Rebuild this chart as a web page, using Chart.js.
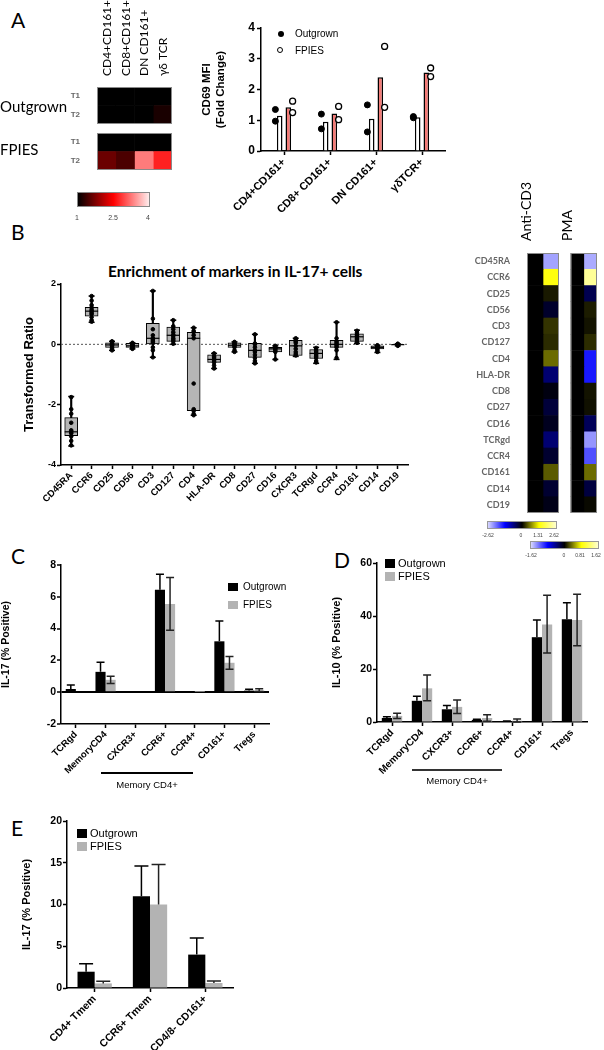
<!DOCTYPE html>
<html>
<head>
<meta charset="utf-8">
<script src="https://cdn.jsdelivr.net/npm/chart.js@4.4.1/dist/chart.umd.min.js"></script>
<style>
  body { margin: 0; background: #fff; }
  #wrap { position: relative; width: 604px; height: 1050px; background: #fff; overflow: hidden; }
  canvas { position: absolute; }
  .t { position: absolute; white-space: nowrap; line-height: 1; color: #000; }
  .lato { font-family: Lato, "Open Sans", sans-serif; }
  .arial { font-family: "Liberation Sans", Arial, sans-serif; }
  .letter { font-family: Lato, sans-serif; font-size: 21px; }
  .sq { position: absolute; width: 10px; height: 8px; }
  .bar { position: absolute; height: 6px; border: 1px solid #999; }
  .tiny { position: absolute; font-family: "Liberation Sans", sans-serif; font-size: 5px; color: #444; transform: translateX(-50%); }
</style>
</head>
<body>
<div id="wrap">
  <!-- panel letters -->
  <div class="t letter" style="left:11px;top:9px">A</div>
  <div class="t letter" style="left:11px;top:221px">B</div>
  <div class="t letter" style="left:11px;top:545px">C</div>
  <div class="t letter" style="left:334px;top:549px">D</div>
  <div class="t letter" style="left:11px;top:817px">E</div>

  <!-- A heatmap -->
  <canvas id="hmOut" width="115" height="138" style="left:60px;top:0px"></canvas>
  <canvas id="hmFp" width="115" height="65" style="left:60px;top:119px"></canvas>
  <div class="t lato" style="left:0px;top:99px;font-size:15px">Outgrown</div>
  <div class="t lato" style="left:0px;top:142px;font-size:15px">FPIES</div>
  <div class="bar" id="cbA" style="left:77px;top:192px;width:71px;height:13px;border-color:#888"></div>
  <div class="tiny" style="left:77px;top:214px;font-size:7px">1</div>
  <div class="tiny" style="left:113px;top:214px;font-size:7px">2.5</div>
  <div class="tiny" style="left:148px;top:214px;font-size:7px">4</div>

  <!-- A bar chart -->
  <canvas id="cd69" width="255" height="205" style="left:200px;top:12px"></canvas>
  <div class="t arial" style="left:278px;top:31px;width:6px;height:6px;border-radius:50%;background:#000"></div>
  <div class="t arial" style="left:295px;top:29px;font-size:10px">Outgrown</div>
  <div class="t arial" style="left:277px;top:47px;width:6px;height:6px;border-radius:50%;border:1.3px solid #000;box-sizing:border-box"></div>
  <div class="t arial" style="left:295px;top:46px;font-size:10px">FPIES</div>

  <!-- B -->
  <div class="t lato" style="left:108px;top:264px;font-size:15.5px;font-weight:bold">Enrichment of markers in IL-17+ cells</div>
  <canvas id="box" width="396" height="245" style="left:22px;top:276px"></canvas>
  <canvas id="hmCD3" width="122" height="358" style="left:440px;top:170px"></canvas>
  <canvas id="hmPMA" width="40" height="358" style="left:562px;top:170px"></canvas>
  <div class="bar" id="cbB1" style="left:487px;top:521px;width:68px"></div>
  <div class="tiny" style="left:488px;top:532px">-2.62</div>
  <div class="tiny" style="left:521px;top:532px">0</div>
  <div class="tiny" style="left:538px;top:532px">1.31</div>
  <div class="tiny" style="left:554px;top:532px">2.62</div>
  <div class="bar" id="cbB2" style="left:530px;top:541px;width:67px"></div>
  <div class="tiny" style="left:531px;top:552px">-1.62</div>
  <div class="tiny" style="left:564px;top:552px">0</div>
  <div class="tiny" style="left:580px;top:552px">0.81</div>
  <div class="tiny" style="left:596px;top:552px">1.62</div>

  <!-- C -->
  <canvas id="c17" width="280" height="228" style="left:0px;top:555px"></canvas>
  <div class="sq" style="left:228px;top:583px;background:#000"></div>
  <div class="t arial" style="left:243px;top:582px;font-size:10px">Outgrown</div>
  <div class="sq" style="left:228px;top:601px;background:#b3b3b3"></div>
  <div class="t arial" style="left:243px;top:600px;font-size:10px">FPIES</div>
  <div style="position:absolute;left:101px;top:772px;width:92px;height:1.5px;background:#000"></div>
  <div class="t arial" style="left:147px;top:780px;font-size:9.5px;transform:translateX(-50%)">Memory CD4+</div>

  <!-- D -->
  <canvas id="d10" width="265" height="226" style="left:330px;top:553px"></canvas>
  <div class="sq" style="left:385px;top:559px;background:#000;height:9px"></div>
  <div class="t arial" style="left:398px;top:558px;font-size:11px">Outgrown</div>
  <div class="sq" style="left:385px;top:572px;background:#b3b3b3;height:9px"></div>
  <div class="t arial" style="left:398px;top:571px;font-size:11px">FPIES</div>
  <div style="position:absolute;left:412px;top:769px;width:90px;height:1.5px;background:#333"></div>
  <div class="t arial" style="left:457px;top:776px;font-size:9.5px;transform:translateX(-50%)">Memory CD4+</div>

  <!-- E -->
  <canvas id="e17" width="225" height="239" style="left:20px;top:811px"></canvas>
  <div class="sq" style="left:77px;top:829px;background:#000;height:9px"></div>
  <div class="t arial" style="left:90px;top:828px;font-size:11px">Outgrown</div>
  <div class="sq" style="left:77px;top:842px;background:#b3b3b3;height:9px"></div>
  <div class="t arial" style="left:90px;top:841px;font-size:11px">FPIES</div>
</div>

<script>
// ---------- data ----------
// A: heatmap of CD69 fold change (scale 1 - 4)
const hmCols = ['CD4+CD161+', 'CD8+CD161+', 'DN CD161+', 'γδ TCR'];
const hmRows = ['T1', 'T2'];
const hmOutgrown = [[1, 1, 1, 1], [1, 1, 1, 1.15]];
const hmFpies = [[1, 1, 1, 1], [1.63, 1.44, 3.28, 2.71]];

// A: CD69 MFI bars and points
const cd69Cats = ['CD4+CD161+', 'CD8+ CD161+', 'DN CD161+', 'γδTCR+'];
const cd69Outgrown = [1.15, 0.95, 1.05, 1.1];
const cd69Fpies = [1.42, 1.22, 2.4, 2.55];
const cd69OutPts = [[1.35, 0.97], [1.2, 0.72], [1.5, 0.62], [1.08, 1.12]];
const cd69FpPts = [[1.62, 1.25], [1.45, 1.02], [3.4, 1.42], [2.7, 2.42]];

// B: box plots, transformed ratio
const markers = ['CD45RA', 'CCR6', 'CD25', 'CD56', 'CD3', 'CD127', 'CD4', 'HLA-DR', 'CD8', 'CD27', 'CD16', 'CXCR3', 'TCRgd', 'CCR4', 'CD161', 'CD14', 'CD19'];
const boxMin = [-3.37, 0.73, -0.2, -0.15, -0.43, 0.0, -2.35, -0.8, -0.25, -0.63, -0.5, -0.4, -0.63, -0.5, 0.03, -0.27, -0.05];
const boxQ1 = [-3.03, 0.93, -0.1, -0.1, 0.0, 0.1, -2.2, -0.6, -0.1, -0.43, -0.25, -0.37, -0.47, -0.1, 0.1, -0.15, -0.02];
const boxMed = [-2.9, 1.1, -0.02, -0.05, 0.2, 0.3, 0.2, -0.5, -0.03, -0.2, -0.15, -0.05, -0.3, 0.0, 0.25, -0.1, -0.01];
const boxQ3 = [-2.43, 1.23, 0.05, 0.03, 0.7, 0.57, 0.4, -0.35, 0.05, 0.03, -0.1, 0.13, -0.17, 0.13, 0.35, -0.05, 0.0];
const boxMax = [-1.73, 1.6, 0.1, 0.05, 1.77, 0.8, 0.55, -0.3, 0.08, 0.33, -0.05, 0.2, -0.1, 0.73, 0.47, -0.03, 0.02];
const boxPts = [
  [-1.75, -2.15, -2.3, -2.6, -2.85, -2.9, -2.95, -3.05, -3.2, -3.35],
  [1.6, 1.45, 1.3, 1.22, 1.15, 1.1, 1.05, 1.0, 0.9, 0.8, 0.75],
  [0.1, 0.05, 0.02, 0, -0.02, -0.05, -0.1, -0.15, -0.2],
  [0.05, 0.02, 0, -0.03, -0.05, -0.08, -0.1, -0.13, -0.15],
  [1.77, 0.85, 0.5, 0.3, 0.2, 0.15, 0.1, 0.05, -0.1, -0.2, -0.43],
  [0.8, 0.6, 0.5, 0.4, 0.32, 0.28, 0.2, 0.15, 0.1, 0.02],
  [0.55, 0.45, 0.4, 0.3, 0.2, -1.3, -2.15, -2.2, -2.3, -2.35],
  [-0.3, -0.4, -0.45, -0.5, -0.55, -0.6, -0.7, -0.8],
  [0.08, 0.03, 0, -0.02, -0.05, -0.1, -0.2, -0.25],
  [0.33, 0.03, 0, -0.1, -0.2, -0.25, -0.35, -0.45, -0.55, -0.63],
  [-0.05, -0.1, -0.12, -0.15, -0.2, -0.25, -0.5],
  [0.2, 0.15, 0.1, 0.05, -0.05, -0.15, -0.25, -0.32, -0.37],
  [-0.12, -0.2, -0.25, -0.3, -0.35, -0.4, -0.45, -0.55, -0.6],
  [0.73, 0.2, 0.1, 0.05, 0, -0.05, -0.1, -0.2, -0.45],
  [0.45, 0.38, 0.33, 0.28, 0.25, 0.2, 0.15, 0.1, 0.05],
  [-0.03, -0.05, -0.08, -0.1, -0.12, -0.15, -0.2, -0.25],
  [0.02, 0.01, 0, -0.01, -0.02, -0.03, -0.05]
];

// B: heatmaps (reference column, stimulated column)
const hmMarkers = ['CD45RA', 'CCR6', 'CD25', 'CD56', 'CD3', 'CD127', 'CD4', 'HLA-DR', 'CD8', 'CD27', 'CD16', 'TCRgd', 'CCR4', 'CD161', 'CD14', 'CD19'];
const antiCD3 = [-2.3, 1.4, 0.13, -0.22, 0.26, 0.22, 0.55, -0.58, -0.08, -0.3, -0.16, -0.58, -0.24, 0.46, -0.25, -0.12];
const pma = [-1.45, 1.4, -0.25, 0.09, 0.06, 0.14, -0.9, -0.9, 0.06, 0.05, -0.28, -1.37, -1.11, 0.34, -0.2, 0.03];

// C: IL-17 % positive
const cCats = ['TCRgd', 'MemoryCD4', 'CXCR3+', 'CCR6+', 'CCR4+', 'CD161+', 'Tregs'];
const cOutgrown = [0.2, 1.28, 0.03, 6.45, 0.03, 3.2, 0.1];
const cOutHi = [0.45, 1.88, null, 7.42, null, 4.48, 0.18];
const cFpies = [0, 0.78, 0, 5.55, 0.02, 1.85, 0.12];
const cFpHi = [null, 1.0, null, 7.22, null, 2.25, 0.22];
const cFpLo = [null, 0.55, null, 3.9, null, 1.45, 0.04];

// D: IL-10 % positive
const dCats = ['TCRgd', 'MemoryCD4', 'CXCR3+', 'CCR6+', 'CCR4+', 'CD161+', 'Tregs'];
const dOutgrown = [1.5, 8.0, 4.8, 0.8, 0.3, 32.0, 38.8];
const dOutHi = [2.0, 9.7, 6.2, 1.0, 0.4, 38.5, 45.0];
const dFpies = [2.3, 12.7, 5.7, 1.5, 0.5, 36.8, 38.5];
const dFpHi = [3.3, 17.7, 8.3, 2.7, 1.1, 47.8, 48.2];
const dFpLo = [1.3, 8.0, 3.2, 0.3, 0.0, 26.0, 28.8];

// E: IL-17 % positive
const eCats = ['CD4+ Tmem', 'CCR6+ Tmem', 'CD4/8- CD161+'];
const eOutgrown = [1.95, 11.0, 4.0];
const eOutHi = [2.9, 14.6, 6.0];
const eFpies = [0.55, 10.0, 0.6];
const eFpHi = [0.8, 14.8, 0.85];

// ---------- helpers ----------
Chart.defaults.font.family = '"Liberation Sans", Arial, sans-serif';
Chart.defaults.font.weight = 'bold';
Chart.defaults.color = '#000';
Chart.defaults.animation = false;
Chart.defaults.plugins.legend.display = false;
Chart.defaults.plugins.tooltip.enabled = false;

function mix(stops, v) {
  if (v <= stops[0][0]) return stops[0][1];
  for (let i = 1; i < stops.length; i++) {
    if (v <= stops[i][0]) {
      const [a, ca] = stops[i - 1], [b, cb] = stops[i];
      const t = (v - a) / (b - a);
      return ca.map((c, k) => Math.round(c + (cb[k] - c) * t));
    }
  }
  return stops[stops.length - 1][1];
}
const rgb = c => `rgb(${c[0]},${c[1]},${c[2]})`;
const redStops = [[1, [0, 0, 0]], [2.5, [255, 0, 0]], [4, [255, 236, 236]]];
const byStops = m => [[-m, [216, 216, 255]], [-m / 2, [0, 0, 255]], [0, [0, 0, 0]], [m / 2, [255, 255, 0]], [m, [255, 255, 208]]];

function gradientCss(stops) {
  const lo = stops[0][0], hi = stops[stops.length - 1][0];
  return 'linear-gradient(to right,' + stops.map(s => `${rgb(s[1])} ${((s[0] - lo) / (hi - lo) * 100).toFixed(1)}%`).join(',') + ')';
}
document.getElementById('cbA').style.background = gradientCss(redStops);
document.getElementById('cbB1').style.background = gradientCss(byStops(2.62));
document.getElementById('cbB2').style.background = gradientCss(byStops(1.62));

const fixW = w => s => { s.width = w; };
const fixH = h => s => { s.height = h; };
const axisBorder = { color: '#000', width: 1.5 };
const tickGrid = { drawOnChartArea: false, color: '#000', tickColor: '#000', tickLength: 4, tickWidth: 1.5 };
const hiddenLinear = (min, max) => ({ type: 'linear', display: false, offset: false, min, max, grid: { offset: false } });

// thin frame round a heatmap block
const frame = {
  id: 'frame',
  afterDatasetsDraw(chart) {
    const { ctx, chartArea: a } = chart;
    ctx.save();
    ctx.strokeStyle = '#8a8a8a';
    ctx.lineWidth = 1;
    ctx.strokeRect(a.left + 0.5, a.top + 0.5, a.right - a.left - 1, a.bottom - a.top - 1);
    ctx.restore();
  }
};

// error bars drawn from dataset errHi / errLo through the y scale
const errorBars = {
  id: 'errorBars',
  afterDatasetsDraw(chart, args, opts) {
    const ctx = chart.ctx;
    chart.data.datasets.forEach((ds, i) => {
      if (!ds.errHi) return;
      const meta = chart.getDatasetMeta(i);
      const ys = chart.scales[meta.yAxisID];
      ctx.save();
      ctx.strokeStyle = ds.errColor || '#000';
      ctx.lineWidth = 1.5;
      meta.data.forEach((bar, j) => {
        const hi = ds.errHi[j];
        if (hi == null) return;
        const lo = ds.errLo ? ds.errLo[j] : null;
        const top = ys.getPixelForValue(hi);
        const bot = lo == null ? bar.y : ys.getPixelForValue(lo);
        const w = opts.cap || 4;
        ctx.beginPath();
        ctx.moveTo(bar.x, bot); ctx.lineTo(bar.x, top);
        ctx.moveTo(bar.x - w, top); ctx.lineTo(bar.x + w, top);
        if (lo != null) { ctx.moveTo(bar.x - w, bot); ctx.lineTo(bar.x + w, bot); }
        ctx.stroke();
      });
      ctx.restore();
    });
  }
};

// ---------- A heatmaps ----------
function heatA(id, rows, showCols, top, bottom) {
  const datasets = hmCols.map((c, j) => ({
    data: hmRows.map(() => 1),
    backgroundColor: rows.map(r => rgb(mix(redStops, r[j]))),
    borderWidth: 0,
    barPercentage: 1, categoryPercentage: 1
  }));
  const scales = {
    x: { stacked: true, display: false, min: 0, max: 4 },
    y: { stacked: true, grid: { display: false }, border: { display: false },
         afterFit: fixW(37),
         ticks: { color: '#666', font: { size: 8 }, padding: 9 } }
  };
  if (showCols) {
    scales.xt = { type: 'category', position: 'top', offset: true, labels: hmCols,
                  afterFit: fixH(87), grid: { display: false }, border: { display: false },
                  ticks: { minRotation: 90, maxRotation: 90, autoSkip: false, padding: 3, labelOffset: 15,
                           font: { family: 'Lato, sans-serif', weight: 'normal', size: 12 } } };
  }
  new Chart(document.getElementById(id), {
    type: 'bar',
    data: { labels: hmRows, datasets },
    options: {
      responsive: false, indexAxis: 'y',
      layout: { padding: { top: top, bottom: bottom, right: 3 } },
      scales
    },
    plugins: [frame]
  });
}
heatA('hmOut', hmOutgrown, true, 0, 14);
heatA('hmFp', hmFpies, false, 14, 14);

// ---------- A bars ----------
new Chart(document.getElementById('cd69'), {
  type: 'bar',
  data: {
    labels: cd69Cats,
    datasets: [
      { data: cd69OutPts.map((p, i) => p.map(v => ({ x: i - 0.1875, y: v }))).flat(), type: 'scatter', xAxisID: 'x2',
        pointRadius: 3, backgroundColor: '#000', borderColor: '#000', order: 0 },
      { data: cd69FpPts.map((p, i) => p.map(v => ({ x: i + 0.1875, y: v }))).flat(), type: 'scatter', xAxisID: 'x2',
        pointRadius: 3, backgroundColor: '#fff', borderColor: '#000', borderWidth: 1.3, order: 0 },
      { label: 'Outgrown', data: cd69Outgrown, backgroundColor: '#fff', borderColor: '#000', borderWidth: 1.5,
        borderSkipped: 'bottom', categoryPercentage: 0.75, barPercentage: 0.65, order: 1 },
      { label: 'FPIES', data: cd69Fpies, backgroundColor: '#f47a76', borderColor: '#000', borderWidth: 1.5,
        borderSkipped: 'bottom', categoryPercentage: 0.75, barPercentage: 0.65, order: 1 }
    ]
  },
  options: {
    responsive: false,
    layout: { padding: { top: 16, right: 10 } },
    scales: {
      x: { afterFit: fixH(66), border: axisBorder, grid: { ...tickGrid, offset: false },
           ticks: { minRotation: 45, maxRotation: 45, autoSkip: false, padding: 1, font: { size: 11 } } },
      x2: hiddenLinear(-0.5, 3.5),
      y: { min: 0, max: 4, afterFit: fixW(61), border: axisBorder, grid: tickGrid,
           ticks: { stepSize: 1, font: { size: 12 }, padding: 2 },
           title: { display: true, text: ['CD69 MFI', '(Fold Change)'], font: { size: 11.5 }, padding: 0 } }
    }
  }
});

// ---------- B box plot ----------
new Chart(document.getElementById('box'), {
  type: 'bar',
  data: {
    labels: markers,
    datasets: [
      { type: 'scatter', xAxisID: 'x2', order: 0, pointRadius: 1.8, backgroundColor: '#000', borderColor: '#000',
        data: boxPts.map((p, i) => p.map(v => ({ x: i, y: v }))).flat() },
      { type: 'scatter', xAxisID: 'x2', order: 1, pointStyle: 'line', pointRadius: 6.5, borderWidth: 1.2, borderColor: '#000',
        data: boxMed.map((v, i) => ({ x: i, y: v })) },
      { type: 'scatter', xAxisID: 'x2', order: 1, pointStyle: 'line', pointRadius: 3, borderWidth: 1.5, borderColor: '#000',
        data: boxMin.map((v, i) => ({ x: i, y: v })).concat(boxMax.map((v, i) => ({ x: i, y: v }))) },
      { data: boxQ1.map((v, i) => [v, boxQ3[i]]), order: 2, grouped: false, barThickness: 13,
        backgroundColor: '#b5b5b5', borderColor: '#000', borderWidth: 1, borderSkipped: false },
      { data: boxMin.map((v, i) => [v, boxMax[i]]), order: 3, grouped: false, barThickness: 1.5,
        backgroundColor: '#000' },
      { type: 'line', xAxisID: 'x2', order: 4, data: [{ x: -0.5, y: 0 }, { x: 16.5, y: 0 }],
        borderColor: '#555', borderWidth: 1, borderDash: [2, 2], pointRadius: 0 }
    ]
  },
  options: {
    responsive: false,
    layout: { padding: { top: 8, right: 10 } },
    scales: {
      x: { afterFit: fixH(56), border: axisBorder, grid: { ...tickGrid, offset: false },
           ticks: { minRotation: 45, maxRotation: 45, autoSkip: false, padding: 1, font: { size: 9.5 } } },
      x2: hiddenLinear(-0.5, 16.5),
      y: { min: -4, max: 2, afterFit: fixW(39), border: axisBorder, grid: tickGrid,
           ticks: { stepSize: 2, font: { size: 9 }, padding: 1 },
           title: { display: true, text: 'Transformed Ratio', font: { size: 13 }, padding: 0 } }
    }
  }
});

// ---------- B heatmaps ----------
function heatB(id, vals, max, label, showRows, padLeft, padRight) {
  const stops = byStops(max);
  const yAxis = { stacked: true, display: showRows, grid: { display: false }, border: { display: false },
                  ticks: { color: '#666', padding: 9, font: { family: 'Lato, sans-serif', size: 9 } } };
  if (showRows) yAxis.afterFit = fixW(87);
  new Chart(document.getElementById(id), {
    type: 'bar',
    data: {
      labels: hmMarkers,
      datasets: [
        { data: hmMarkers.map(() => 1), backgroundColor: hmMarkers.map(() => rgb(mix(stops, 0))),
          borderWidth: 0, barPercentage: 1, categoryPercentage: 1 },
        { data: hmMarkers.map(() => 1), backgroundColor: vals.map(v => rgb(mix(stops, v))),
          borderWidth: 0, barPercentage: 1, categoryPercentage: 1 }
      ]
    },
    options: {
      responsive: false, indexAxis: 'y',
      layout: { padding: { left: padLeft, right: padRight, bottom: 15 } },
      scales: {
        x: { stacked: true, display: false, min: 0, max: 2 },
        y: yAxis,
        xt: { type: 'category', position: 'top', offset: true, labels: [label],
              afterFit: fixH(83), grid: { display: false }, border: { display: false },
              ticks: { minRotation: 90, maxRotation: 90, autoSkip: false, padding: 4,
                       font: { family: 'Lato, sans-serif', weight: 'normal', size: 14 } } }
      }
    },
    plugins: [frame]
  });
}
heatB('hmCD3', antiCD3, 2.62, 'Anti-CD3', true, 0, 3);
heatB('hmPMA', pma, 1.62, 'PMA', false, 2, 5);

// ---------- C / D / E grouped bars ----------
function groupBars(id, cats, out, outHi, fp, fpHi, fpLo, o) {
  new Chart(document.getElementById(id), {
    type: 'bar',
    data: {
      labels: cats,
      datasets: [
        { label: 'Outgrown', data: out, backgroundColor: '#000', errHi: outHi, errColor: '#000',
          categoryPercentage: o.cat, barPercentage: 1 },
        { label: 'FPIES', data: fp, backgroundColor: '#b3b3b3', errHi: fpHi, errLo: fpLo, errColor: '#222',
          categoryPercentage: o.cat, barPercentage: 1 }
      ]
    },
    options: {
      responsive: false,
      layout: { padding: { top: o.top, right: o.right } },
      plugins: { errorBars: { cap: o.cap } },
      scales: {
        x: { afterFit: fixH(o.xh), border: axisBorder, grid: { ...tickGrid, offset: false },
             ticks: { minRotation: 45, maxRotation: 45, autoSkip: false, padding: 1, font: { size: o.xf } } },
        y: { min: o.min, max: o.max, afterFit: fixW(o.yw), border: axisBorder,
             grid: o.zero ? { drawOnChartArea: true, tickColor: '#000', tickLength: 4, tickWidth: 1.5,
                              color: c => (c.tick && c.tick.value === 0) ? '#000' : 'rgba(0,0,0,0)',
                              lineWidth: c => (c.tick && c.tick.value === 0) ? 2 : 0 } : tickGrid,
             ticks: { stepSize: o.step, font: { size: 10.5 }, padding: 1 },
             title: { display: true, text: o.title, font: { size: o.tf }, padding: 0 } }
      }
    },
    plugins: [errorBars]
  });
}
groupBars('c17', cCats, cOutgrown, cOutHi, cFpies, cFpHi, cFpLo,
  { cat: 0.68, top: 10, right: 11, xh: 59, yw: 61, min: -2, max: 8, step: 2, zero: true,
    title: 'IL-17 (% Positive)', tf: 10.5, xf: 9.5, cap: 4 });
groupBars('d10', dCats, dOutgrown, dOutHi, dFpies, dFpHi, dFpLo,
  { cat: 0.68, top: 10, right: 8, xh: 57, yw: 47, min: 0, max: 60, step: 20, zero: false,
    title: 'IL-10 (% Positive)', tf: 11, xf: 10, cap: 4 });
groupBars('e17', eCats, eOutgrown, eOutHi, eFpies, eFpHi, null,
  { cat: 0.62, top: 10, right: 12, xh: 62, yw: 47, min: 0, max: 20, step: 5, zero: false,
    title: 'IL-17 (% Positive)', tf: 11, xf: 10.5, cap: 7 });
</script>
</body>
</html>
